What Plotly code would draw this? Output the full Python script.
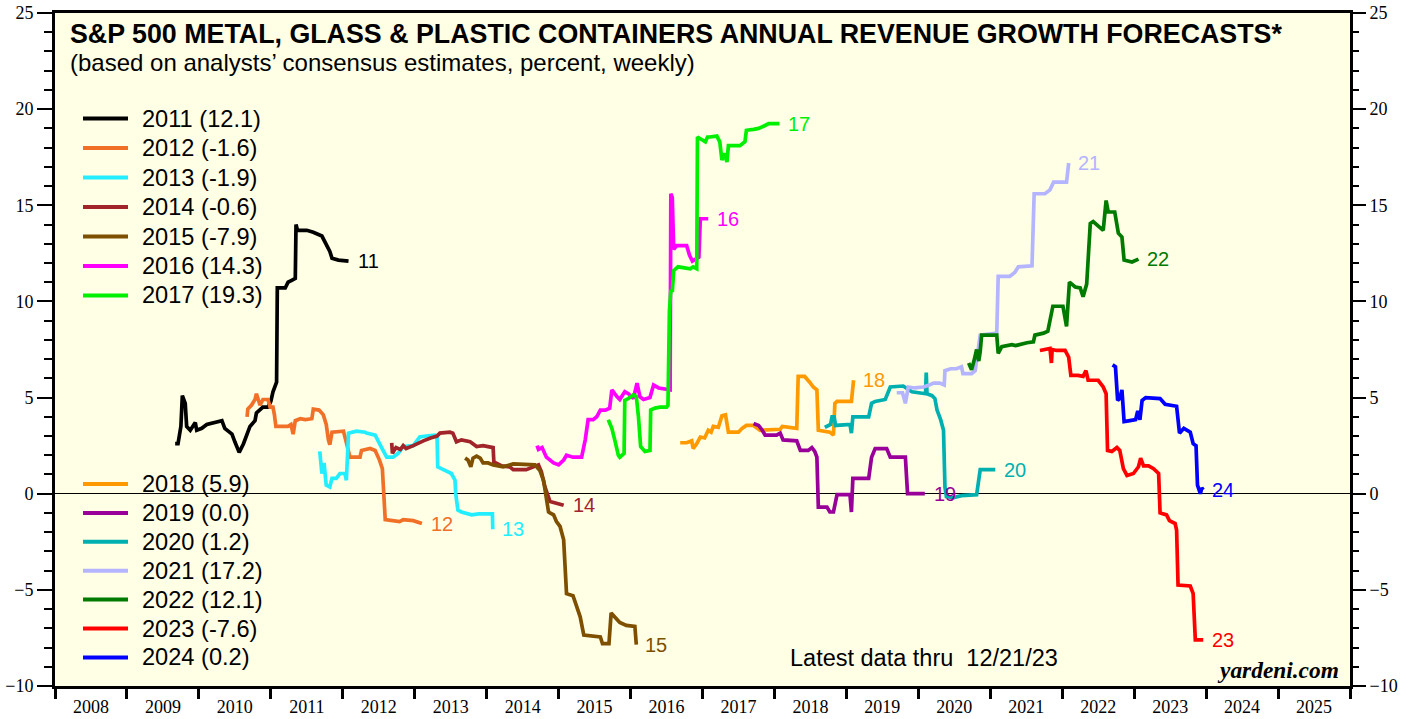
import plotly.graph_objects as go

# ---------------- data (decimal year, percent) ----------------
x_2011 = [2009.67,2009.71,2009.75,2009.77,2009.81,2009.83,2009.88,2009.95,2009.97,2010.04,2010.11,2010.20,2010.32,2010.36,2010.46,2010.50,2010.56,2010.62,2010.67,2010.71,2010.78,2010.80,2010.89,2010.96,2011.00,2011.03,2011.08,2011.09,2011.20,2011.24,2011.29,2011.34,2011.35,2011.37,2011.50,2011.59,2011.71,2011.77,2011.82,2011.85,2011.94,2012.08]
y_2011 = [2.6,2.6,3.5,5.1,4.7,3.5,3.3,3.7,3.3,3.4,3.6,3.7,3.8,3.4,3.1,2.7,2.15,2.6,3.1,3.5,3.8,4.2,4.5,4.5,4.8,5.3,5.8,10.7,10.7,11.0,11.1,11.2,14.0,13.7,13.7,13.6,13.4,13.0,12.6,12.25,12.15,12.1]

x_2012 = [2010.67,2010.68,2010.73,2010.78,2010.80,2010.82,2010.85,2010.89,2010.96,2010.99,2011.03,2011.05,2011.07,2011.17,2011.24,2011.28,2011.31,2011.34,2011.41,2011.48,2011.57,2011.59,2011.67,2011.73,2011.77,2011.80,2011.82,2011.85,2012.01,2012.04,2012.10,2012.24,2012.26,2012.38,2012.45,2012.51,2012.55,2012.59,2012.70,2012.79,2012.84,2012.98,2013.10]
y_2012 = [4.0,4.4,4.6,4.9,5.2,5.0,4.6,4.9,4.9,4.5,4.5,4.1,3.5,3.5,3.5,3.6,3.1,3.8,3.9,3.85,3.9,4.4,4.35,4.1,3.6,2.8,2.55,3.2,3.25,2.8,1.9,1.9,2.25,2.35,2.25,1.75,1.3,-1.35,-1.4,-1.45,-1.35,-1.4,-1.55]

x_2013 = [2011.68,2011.71,2011.74,2011.75,2011.77,2011.82,2011.85,2011.91,2011.96,2012.03,2012.05,2012.08,2012.12,2012.19,2012.31,2012.33,2012.45,2012.52,2012.56,2012.61,2012.70,2012.77,2012.84,2012.98,2013.07,2013.16,2013.28,2013.31,2013.32,2013.37,2013.44,2013.51,2013.56,2013.57,2013.60,2013.65,2013.79,2013.89,2014.02,2014.08,2014.085]
y_2013 = [2.2,1.05,1.6,1.25,0.45,0.35,0.8,0.8,1.05,1.05,0.7,3.15,3.2,3.25,3.2,3.15,3.05,2.6,2.25,1.9,1.9,2.1,2.45,2.5,2.95,3.0,3.05,3.0,1.4,1.3,1.2,1.05,0.7,0.0,-0.85,-0.95,-1.1,-1.05,-1.05,-1.05,-1.85]

x_2014 = [2012.68,2012.69,2012.74,2012.80,2012.84,2012.88,2012.98,2013.05,2013.12,2013.22,2013.31,2013.35,2013.49,2013.53,2013.58,2013.65,2013.77,2013.86,2013.95,2014.09,2014.10,2014.21,2014.32,2014.37,2014.55,2014.72,2014.76,2014.81,2014.88,2015.07]
y_2014 = [2.65,2.1,2.4,2.3,2.5,2.35,2.5,2.6,2.75,2.9,3.0,3.15,3.2,3.15,2.7,2.8,2.7,2.45,2.5,2.4,1.65,1.45,1.4,1.25,1.25,1.5,1.15,0.35,-0.4,-0.6]

x_2015 = [2013.70,2013.74,2013.78,2013.81,2013.86,2013.91,2013.95,2014.02,2014.09,2014.23,2014.37,2014.58,2014.67,2014.74,2014.79,2014.82,2014.86,2014.88,2014.93,2014.97,2015.02,2015.07,2015.11,2015.20,2015.25,2015.30,2015.35,2015.44,2015.58,2015.61,2015.70,2015.73,2015.78,2015.85,2015.94,2016.06,2016.08]
y_2015 = [1.85,1.75,1.4,1.85,1.95,1.85,1.6,1.6,1.5,1.4,1.55,1.5,1.5,1.2,0.7,0.0,-0.95,-1.0,-1.1,-1.45,-1.7,-2.4,-5.2,-5.3,-5.85,-6.4,-7.35,-7.4,-7.45,-7.8,-7.8,-6.2,-6.4,-6.7,-6.85,-6.9,-7.85]

x_2016 = [2014.70,2014.72,2014.77,2014.83,2014.93,2015.00,2015.07,2015.11,2015.20,2015.32,2015.37,2015.41,2015.48,2015.53,2015.58,2015.65,2015.71,2015.74,2015.81,2015.85,2015.92,2015.97,2016.04,2016.09,2016.13,2016.18,2016.27,2016.32,2016.39,2016.50,2016.55,2016.56,2016.58,2016.60,2016.64,2016.78,2016.82,2016.86,2016.95,2016.97,2017.08]
y_2016 = [2.5,2.3,2.4,1.9,1.6,1.5,1.75,2.0,1.9,1.9,2.8,3.85,3.85,4.0,4.35,4.35,4.45,5.4,5.05,4.9,5.3,5.2,4.95,5.75,5.05,4.9,5.0,5.65,5.5,5.4,5.4,15.6,15.4,12.7,12.9,12.9,12.4,12.1,12.3,14.3,14.3]

x_2017 = [2015.69,2015.74,2015.78,2015.83,2015.85,2015.91,2015.92,2015.97,2016.04,2016.08,2016.11,2016.14,2016.20,2016.27,2016.28,2016.34,2016.41,2016.50,2016.52,2016.54,2016.56,2016.58,2016.60,2016.66,2016.83,2016.87,2016.92,2016.93,2017.04,2017.07,2017.10,2017.20,2017.24,2017.27,2017.30,2017.34,2017.36,2017.52,2017.59,2017.61,2017.71,2017.78,2017.87,2017.92,2018.07]
y_2017 = [3.85,3.4,2.8,2.0,1.9,2.1,4.85,4.95,5.15,5.05,4.0,2.45,2.2,2.25,4.35,4.45,4.5,4.5,4.6,9.5,10.6,10.5,11.6,11.8,11.7,11.8,11.7,18.55,18.3,18.55,18.55,18.6,18.3,17.35,17.7,17.25,18.1,18.1,18.3,18.9,18.95,19.0,19.15,19.25,19.25]

x_2018 = [2016.69,2016.78,2016.85,2016.87,2016.92,2016.97,2017.03,2017.08,2017.12,2017.15,2017.22,2017.27,2017.32,2017.36,2017.50,2017.55,2017.61,2017.71,2017.80,2018.08,2018.11,2018.31,2018.33,2018.42,2018.49,2018.54,2018.59,2018.61,2018.77,2018.82,2018.84,2018.87,2019.07,2019.10]
y_2018 = [2.65,2.65,2.75,2.35,2.6,2.95,2.9,3.3,3.2,3.5,3.45,4.05,4.1,3.2,3.2,3.4,3.55,3.55,3.3,3.35,3.5,3.4,6.1,6.1,5.8,5.55,5.4,3.3,3.2,3.05,4.7,4.8,4.8,5.9]

x_2019 = [2017.71,2017.78,2017.83,2017.87,2018.03,2018.08,2018.12,2018.31,2018.36,2018.47,2018.52,2018.56,2018.59,2018.61,2018.73,2018.77,2018.82,2018.87,2019.05,2019.07,2019.09,2019.31,2019.35,2019.40,2019.56,2019.61,2019.82,2019.85,2019.98,2020.09]
y_2019 = [3.65,3.55,3.3,3.05,3.05,3.15,2.8,2.75,2.25,2.25,2.4,2.2,1.9,-0.7,-0.7,-0.95,-0.95,-0.05,-0.05,-0.95,0.8,0.8,1.9,2.35,2.35,1.9,1.9,0.0,0.0,0.0]

x_2020 = [2018.70,2018.78,2018.80,2018.83,2018.85,2019.05,2019.07,2019.09,2019.31,2019.35,2019.40,2019.47,2019.54,2019.61,2019.79,2019.91,2020.07,2020.10,2020.11,2020.12,2020.19,2020.23,2020.26,2020.31,2020.35,2020.37,2020.39,2020.49,2020.60,2020.72,2020.81,2020.86,2021.07]
y_2020 = [3.45,3.6,4.0,4.0,3.55,3.6,3.15,4.0,4.0,4.7,4.8,4.85,4.9,5.55,5.6,5.3,5.2,5.2,6.3,5.2,5.1,4.95,4.35,3.85,3.3,0.35,-0.15,-0.2,-0.1,-0.05,-0.05,1.25,1.25]

x_2021 = [2019.70,2019.78,2019.82,2019.86,2019.95,2020.07,2020.15,2020.21,2020.30,2020.36,2020.37,2020.45,2020.53,2020.60,2020.62,2020.74,2020.79,2020.86,2021.09,2021.11,2021.27,2021.34,2021.39,2021.58,2021.61,2021.76,2021.83,2021.88,2022.06,2022.09]
y_2021 = [5.25,5.25,4.7,5.55,5.5,5.55,5.65,5.75,5.75,5.65,6.4,6.5,6.5,6.6,6.25,6.25,6.4,8.25,8.35,11.3,11.3,11.5,11.8,11.85,15.6,15.6,15.8,16.2,16.2,17.2]

x_2022 = [2020.70,2020.74,2020.78,2020.81,2020.84,2020.86,2020.88,2021.09,2021.11,2021.16,2021.30,2021.35,2021.51,2021.60,2021.62,2021.74,2021.80,2021.87,2022.01,2022.06,2022.10,2022.18,2022.25,2022.29,2022.34,2022.39,2022.43,2022.50,2022.57,2022.61,2022.64,2022.73,2022.78,2022.83,2022.86,2022.97,2023.06]
y_2022 = [6.8,6.45,7.0,7.5,6.9,7.4,8.25,8.25,7.3,7.65,7.75,7.7,7.85,7.9,8.25,8.35,8.45,9.75,9.75,8.7,11.0,10.75,10.7,10.25,10.9,14.05,14.15,13.95,13.7,15.25,14.65,14.65,13.55,13.35,12.15,12.05,12.2]

x_2023 = [2021.69,2021.78,2021.83,2021.85,2021.86,2021.92,2022.04,2022.09,2022.12,2022.22,2022.29,2022.33,2022.36,2022.50,2022.57,2022.61,2022.63,2022.69,2022.76,2022.80,2022.85,2022.90,2022.99,2023.06,2023.09,2023.13,2023.20,2023.27,2023.34,2023.36,2023.45,2023.49,2023.57,2023.59,2023.61,2023.78,2023.82,2023.85,2023.96]
y_2023 = [7.45,7.5,7.55,6.8,7.5,7.45,7.45,7.1,6.15,6.15,6.1,6.4,5.9,5.9,5.55,5.2,2.25,2.2,2.4,2.25,1.3,0.95,1.05,1.4,1.85,1.45,1.45,1.3,1.05,-1.0,-1.1,-1.4,-1.55,-1.9,-4.75,-4.8,-5.2,-7.6,-7.6]

x_2024 = [2022.70,2022.74,2022.77,2022.80,2022.83,2022.86,2022.94,2023.02,2023.05,2023.08,2023.11,2023.16,2023.36,2023.43,2023.59,2023.63,2023.69,2023.78,2023.82,2023.86,2023.88,2023.92,2023.94,2023.96]
y_2024 = [6.7,6.6,4.85,4.95,5.4,3.75,3.8,3.85,4.3,3.85,4.85,5.0,4.95,4.65,4.55,3.15,3.4,3.2,2.6,2.5,0.45,0.0,0.3,0.2]

years = [2011,2012,2013,2014,2015,2016,2017,2018,2019,2020,2021,2022,2023,2024]
final_values = ["12.1","-1.6","-1.9","-0.6","-7.9","14.3","19.3","5.9","0.0","1.2","17.2","12.1","-7.6","0.2"]
end_labels = ["11","12","13","14","15","16","17","18","19","20","21","22","23","24"]
xs = [x_2011,x_2012,x_2013,x_2014,x_2015,x_2016,x_2017,x_2018,x_2019,x_2020,x_2021,x_2022,x_2023,x_2024]
ys = [y_2011,y_2012,y_2013,y_2014,y_2015,y_2016,y_2017,y_2018,y_2019,y_2020,y_2021,y_2022,y_2023,y_2024]

x_tick_years = list(range(2008, 2026))
y_ticks = [-10, -5, 0, 5, 10, 15, 20, 25]

# ---------------- styles ----------------
colors = ["#000000","#F07028","#22EEFF","#A0242A","#7F4F00","#FF00FF","#00F000",
          "#FF9900","#990099","#00B0B0","#B4B4FF","#007A00","#FF0000","#0000FF"]
SANS = "Liberation Sans, Arial, sans-serif"
SERIF = "Liberation Serif, Times New Roman, serif"

W, H = 1416, 719
ML, MR, MT, MB = 55, 66, 13, 33
PW, PH = W - ML - MR, H - MT - MB

def px_x(px):
    return (px - ML) / PW

def px_y(py):
    return (H - MB - py) / PH

fig = go.Figure()
for i in range(len(years)):
    fig.add_trace(go.Scatter(x=xs[i], y=ys[i], mode="lines",
                             line=dict(color=colors[i], width=3.7),
                             showlegend=False, hoverinfo="skip"))

# dummy trace so the overlay axes are drawn
fig.add_trace(go.Scatter(x=[2008], y=[0], xaxis="x2", yaxis="y2", mode="markers",
                         marker=dict(opacity=0), showlegend=False, hoverinfo="skip"))

annotations = []
shapes = []

# end labels
for i in range(len(years)):
    annotations.append(dict(x=xs[i][-1], y=ys[i][-1], xref="x", yref="y",
                            text=end_labels[i], showarrow=False, xanchor="left",
                            yanchor="middle", xshift=7,
                            font=dict(family=SANS, size=20, color=colors[i])))

# manual legend (two groups)
for i in range(len(years)):
    if i < 7:
        py = 118.5 + 29.5 * i
    else:
        py = 484 + 28.9 * (i - 7)
    shapes.append(dict(type="line", xref="paper", yref="paper",
                       x0=px_x(83), x1=px_x(128), y0=px_y(py), y1=px_y(py),
                       line=dict(color=colors[i], width=4)))
    annotations.append(dict(x=px_x(140), y=px_y(py), xref="paper", yref="paper",
                            text=f"{years[i]} ({final_values[i]})", showarrow=False,
                            xanchor="left", yanchor="middle",
                            font=dict(family=SANS, size=23.6, color="black")))

annotations.append(dict(x=px_x(68), y=px_y(34), xref="paper", yref="paper",
                        text="<b>S&P 500 METAL, GLASS & PLASTIC CONTAINERS ANNUAL REVENUE GROWTH FORECASTS*</b>",
                        showarrow=False, xanchor="left", yanchor="middle",
                        font=dict(family=SANS, size=26.8, color="black")))
annotations.append(dict(x=px_x(68), y=px_y(63), xref="paper", yref="paper",
                        text="(based on analysts\u2019 consensus estimates, percent, weekly)",
                        showarrow=False, xanchor="left", yanchor="middle",
                        font=dict(family=SANS, size=24, color="black")))
annotations.append(dict(x=px_x(788), y=px_y(658), xref="paper", yref="paper",
                        text="Latest data thru  12/21/23", showarrow=False,
                        xanchor="left", yanchor="middle",
                        font=dict(family=SANS, size=23.5, color="black")))
annotations.append(dict(x=px_x(1341), y=px_y(670), xref="paper", yref="paper",
                        text="<b><i>yardeni.com</i></b>", showarrow=False,
                        xanchor="right", yanchor="middle",
                        font=dict(family=SERIF, size=23.4, color="black")))

yaxis_common = dict(range=[-10, 25], tickvals=y_ticks, ticks="outside", ticklen=15,
                    tickwidth=1.5, tickcolor="black", showgrid=False, automargin=False,
                    tickfont=dict(family=SERIF, size=18, color="black"),
                    minor=dict(dtick=1, tick0=0, ticks="outside", ticklen=8,
                               tickwidth=1.5, tickcolor="black", showgrid=False))

fig.update_layout(
    width=W, height=H,
    margin=dict(l=ML, r=MR, t=MT, b=MB, autoexpand=False),
    paper_bgcolor="white",
    plot_bgcolor="#FFFFE6",
    showlegend=False,
    xaxis=dict(range=[2008, 2026], tickvals=[y + 0.5 for y in x_tick_years],
               ticktext=[str(y) for y in x_tick_years], ticks="outside", ticklen=2,
               tickcolor="rgba(0,0,0,0)", showgrid=False, zeroline=False, automargin=False,
               showline=True, linewidth=3, linecolor="black", mirror=True,
               tickfont=dict(family=SERIF, size=18, color="black")),
    xaxis2=dict(range=[2008, 2026], overlaying="x", anchor="y", side="bottom",
                tickvals=x_tick_years + [2026], ticks="outside", ticklen=12, tickwidth=2.5,
                tickcolor="black", showticklabels=False, showgrid=False, automargin=False,
                zeroline=False, showline=False),
    yaxis=dict(**yaxis_common, zeroline=True, zerolinecolor="black", zerolinewidth=1,
               showline=True, linewidth=3, linecolor="black", mirror=True, side="left"),
    yaxis2=dict(**yaxis_common, overlaying="y", anchor="x", side="right",
                zeroline=False, showline=False),
    annotations=annotations,
    shapes=shapes,
)

fig.write_html("out.html", config={"displayModeBar": False})

# remove the browser's default 8px body margin so the figure sits at the page origin
with open("out.html", "r", encoding="utf-8") as f:
    html = f.read()
html = html.replace("<head>", "<head><style>html,body{margin:0;padding:0;overflow:hidden;}</style>", 1)
with open("out.html", "w", encoding="utf-8") as f:
    f.write(html)
